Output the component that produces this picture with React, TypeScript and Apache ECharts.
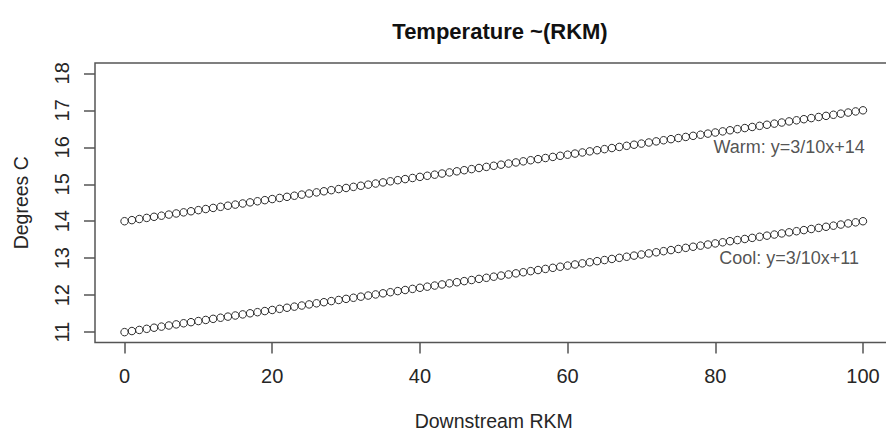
import React, { useEffect, useRef } from "react";
import * as echarts from "echarts";

const rkm = [
  0, 1, 2, 3, 4, 5, 6, 7, 8, 9,
  10, 11, 12, 13, 14, 15, 16, 17, 18, 19,
  20, 21, 22, 23, 24, 25, 26, 27, 28, 29,
  30, 31, 32, 33, 34, 35, 36, 37, 38, 39,
  40, 41, 42, 43, 44, 45, 46, 47, 48, 49,
  50, 51, 52, 53, 54, 55, 56, 57, 58, 59,
  60, 61, 62, 63, 64, 65, 66, 67, 68, 69,
  70, 71, 72, 73, 74, 75, 76, 77, 78, 79,
  80, 81, 82, 83, 84, 85, 86, 87, 88, 89,
  90, 91, 92, 93, 94, 95, 96, 97, 98, 99,
  100,
];

const warm = [
  14.0, 14.03, 14.06, 14.09, 14.12, 14.15, 14.18, 14.21, 14.24, 14.27,
  14.3, 14.33, 14.36, 14.39, 14.42, 14.45, 14.48, 14.51, 14.54, 14.57,
  14.6, 14.63, 14.66, 14.69, 14.72, 14.75, 14.78, 14.81, 14.84, 14.87,
  14.9, 14.93, 14.96, 14.99, 15.02, 15.05, 15.08, 15.11, 15.14, 15.17,
  15.2, 15.23, 15.26, 15.29, 15.32, 15.35, 15.38, 15.41, 15.44, 15.47,
  15.5, 15.53, 15.56, 15.59, 15.62, 15.65, 15.68, 15.71, 15.74, 15.77,
  15.8, 15.83, 15.86, 15.89, 15.92, 15.95, 15.98, 16.01, 16.04, 16.07,
  16.1, 16.13, 16.16, 16.19, 16.22, 16.25, 16.28, 16.31, 16.34, 16.37,
  16.4, 16.43, 16.46, 16.49, 16.52, 16.55, 16.58, 16.61, 16.64, 16.67,
  16.7, 16.73, 16.76, 16.79, 16.82, 16.85, 16.88, 16.91, 16.94, 16.97,
  17.0,
];

const cool = [
  11.0, 11.03, 11.06, 11.09, 11.12, 11.15, 11.18, 11.21, 11.24, 11.27,
  11.3, 11.33, 11.36, 11.39, 11.42, 11.45, 11.48, 11.51, 11.54, 11.57,
  11.6, 11.63, 11.66, 11.69, 11.72, 11.75, 11.78, 11.81, 11.84, 11.87,
  11.9, 11.93, 11.96, 11.99, 12.02, 12.05, 12.08, 12.11, 12.14, 12.17,
  12.2, 12.23, 12.26, 12.29, 12.32, 12.35, 12.38, 12.41, 12.44, 12.47,
  12.5, 12.53, 12.56, 12.59, 12.62, 12.65, 12.68, 12.71, 12.74, 12.77,
  12.8, 12.83, 12.86, 12.89, 12.92, 12.95, 12.98, 13.01, 13.04, 13.07,
  13.1, 13.13, 13.16, 13.19, 13.22, 13.25, 13.28, 13.31, 13.34, 13.37,
  13.4, 13.43, 13.46, 13.49, 13.52, 13.55, 13.58, 13.61, 13.64, 13.67,
  13.7, 13.73, 13.76, 13.79, 13.82, 13.85, 13.88, 13.91, 13.94, 13.97,
  14.0,
];

const xTicks = [0, 20, 40, 60, 80, 100];
const yTicks = [11, 12, 13, 14, 15, 16, 17, 18];

const annotText = ["Warm: y=3/10x+14", "Cool: y=3/10x+11"];
const annotX = [90, 90];
const annotY = [16, 13];

const FONT = "'Liberation Sans', Arial, sans-serif";
const TXT = "#262626";
const AX = "#555555";

export default function App() {
  const ref = useRef<HTMLDivElement>(null);

  useEffect(() => {
    document.body.style.margin = "0";
    if (!ref.current) return;
    const chart = echarts.init(ref.current, null, { renderer: "svg" });

    const circleStyle = {
      color: "rgba(255,255,255,0)",
      borderColor: "#2a2a2a",
      borderWidth: 1,
      opacity: 1,
    };

    chart.setOption({
      animation: false,
      backgroundColor: "#ffffff",
      title: {
        text: "Temperature ~(RKM)",
        left: 495,
        top: 15,
        textAlign: "center",
        textStyle: {
          fontFamily: FONT,
          fontWeight: "bold",
          fontSize: 22,
          color: "#111111",
        },
      },
      grid: {
        left: 95,
        top: 63,
        width: 797.5,
        height: 279.5,
        containLabel: false,
        outerBoundsMode: "none",
        show: true,
        borderColor: AX,
        borderWidth: 1.5,
        backgroundColor: "transparent",
      },
      xAxis: {
        type: "value",
        min: -4,
        max: 104,
        name: "Downstream RKM",
        nameLocation: "middle",
        nameGap: 68,
        nameTextStyle: { fontFamily: FONT, fontSize: 19.5, color: TXT },
        axisLine: { show: false, onZero: false },
        splitLine: { show: false },
        axisTick: {
          show: true,
          length: 11,
          customValues: xTicks,
          lineStyle: { color: AX, width: 1.5 },
        },
        axisLabel: {
          customValues: xTicks,
          margin: 23,
          fontFamily: FONT,
          fontSize: 20,
          color: TXT,
        },
      },
      yAxis: {
        type: "value",
        min: 10.72,
        max: 18.28,
        name: "Degrees C",
        nameLocation: "middle",
        nameGap: 64,
        nameRotate: 90,
        nameTextStyle: { fontFamily: FONT, fontSize: 19.5, color: TXT },
        axisLine: { show: false, onZero: false },
        splitLine: { show: false },
        axisTick: {
          show: true,
          length: 11,
          customValues: yTicks,
          lineStyle: { color: AX, width: 1.5 },
        },
        axisLabel: {
          customValues: yTicks,
          rotate: 90,
          margin: 23,
          fontFamily: FONT,
          fontSize: 20,
          color: TXT,
        },
      },
      series: [
        {
          type: "scatter",
          name: "Warm",
          symbol: "circle",
          symbolSize: 7.5,
          itemStyle: circleStyle,
          data: rkm.map((x, i) => [x, warm[i]]),
        },
        {
          type: "scatter",
          name: "Cool",
          symbol: "circle",
          symbolSize: 7.5,
          itemStyle: circleStyle,
          data: rkm.map((x, i) => [x, cool[i]]),
        },
        {
          type: "scatter",
          name: "labels",
          symbolSize: 1,
          itemStyle: { color: "rgba(0,0,0,0)" },
          label: {
            show: true,
            position: "inside",
            formatter: (p: any) => p.name,
            fontFamily: FONT,
            fontSize: 18,
            color: TXT,
          },
          data: annotText.map((t, i) => ({ name: t, value: [annotX[i], annotY[i]] })),
        },
      ],
    });

    return () => chart.dispose();
  }, []);

  return <div ref={ref} style={{ width: 886, height: 433 }} />;
}
